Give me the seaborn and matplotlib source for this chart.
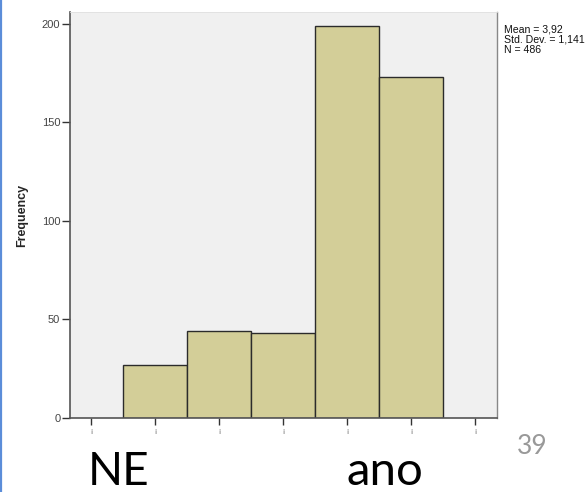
import matplotlib
matplotlib.use("Agg")
import matplotlib.pyplot as plt
import seaborn as sns
import pandas as pd

# Data
categories = [1, 2, 3, 4, 5]
counts = [27, 44, 43, 199, 173]
y_ticks = [0, 50, 100, 150, 200]
x_ticks = [0, 1, 2, 3, 4, 5, 6]
stats_lines = ["Mean = 3,92", "Std. Dev. = 1,141", "N = 486"]
left_word = "NE"
right_word = "ano"
page_number = "39"

df = pd.DataFrame({"value": categories, "count": counts})

sns.set_theme(style="white")
plt.rcParams['font.family'] = ['Liberation Sans', 'DejaVu Sans']

fig = plt.figure(figsize=(5.88, 4.92), dpi=100)
ax = fig.add_axes([70/588, 74/492, 427/588, 406/492])

sns.histplot(data=df, x="value", weights="count", discrete=True, ax=ax,
             color="#D3CE98", alpha=1, edgecolor="#2b2b2b", linewidth=1.0)

ax.set_facecolor("#F0F0F0")
ax.set_xlim(-0.33, 6.34)
ax.set_ylim(0, 206)
ax.set_yticks(y_ticks)
ax.set_yticklabels([str(v) for v in y_ticks], fontsize=8, color="#444444")
ax.set_xticks(x_ticks)
ax.set_xticklabels(["!" for _ in x_ticks], fontsize=5, color="#555555",
                   rotation=180)
ax.tick_params(axis="y", length=6, width=1, color="#333333", pad=1, left=True)
ax.tick_params(axis="x", length=5, width=1, color="#333333", pad=0, bottom=True)
ax.set_xlabel("")
ax.set_ylabel("Frequency", fontsize=9, fontweight="bold", labelpad=10)
for side in ["left", "bottom"]:
    ax.spines[side].set_color("#555555")
    ax.spines[side].set_linewidth(1.2)
ax.spines["right"].set_color("#888888")
ax.spines["right"].set_linewidth(1.0)
ax.spines["top"].set_color("#E0E0E0")
ax.spines["top"].set_linewidth(0.6)

fig.text(504/588, 1 - 25/492, "\n".join(stats_lines), fontsize=7.6,
         va="top", ha="left", color="#111111", linespacing=1.0)

# slide elements
fig.text(88/588, 1 - 485/492, left_word, fontsize=33, family=["Lato", "DejaVu Sans"],
         color="#000000", ha="left", va="baseline")
fig.text(346/588, 1 - 485/492, right_word, fontsize=34, family=["Lato", "DejaVu Sans"],
         color="#000000", ha="left", va="baseline")
fig.text(517/588, 1 - 454/492, page_number, fontsize=19, family=["Lato", "DejaVu Sans"],
         color="#999999", ha="left", va="baseline")

fig.add_artist(plt.Line2D([1/588, 1/588], [0, 1], color="#5B8DD9", linewidth=1.6,
                          transform=fig.transFigure))

fig.savefig("out.png", dpi=100)
